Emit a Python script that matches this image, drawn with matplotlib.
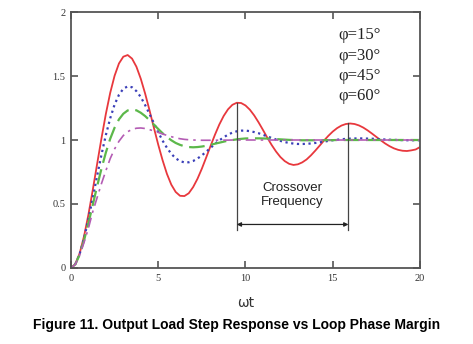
import numpy as np
import matplotlib
matplotlib.use('Agg')
import matplotlib.pyplot as plt

# sample positions along the omega*t axis (every 0.25)
wt = np.linspace(0, 20, 81)

# step responses, one row per 2 units of omega*t
pm15 = [0, .030, .115, .248, .416, .610, .813, 1.014,
        1.204, 1.369, 1.502, 1.598, 1.651, 1.664, 1.636, 1.573,
        1.479, 1.363, 1.233, 1.097, .964, .842, .735, .651,
        .594, .564, .562, .584, .632, .697, .776, .864,
        .954, 1.041, 1.121, 1.188, 1.240, 1.275, 1.291, 1.289,
        1.270, 1.237, 1.192, 1.138, 1.079, 1.018, .961, .910,
        .867, .835, .814, .805, .810, .825, .848, .880,
        .917, .956, .996, 1.033, 1.066, 1.093, 1.113, 1.125,
        1.129, 1.125, 1.114, 1.097, 1.075, 1.050, 1.024, .998,
        .973, .952, .935, .923, .916, .914, .919, .926,
        .945]
pm30 = [0, .029, .110, .231, .381, .548, .720, .886,
        1.039, 1.170, 1.277, 1.353, 1.401, 1.419, 1.412, 1.382,
        1.336, 1.273, 1.204, 1.132, 1.061, .995, .939, .892,
        .857, .835, .825, .826, .836, .855, .880, .908,
        .939, .969, .997, 1.021, 1.042, 1.058, 1.068, 1.073,
        1.074, 1.069, 1.062, 1.053, 1.041, 1.028, 1.016, 1.004,
        .993, .984, .977, .972, .969, .969, .970, .973,
        .977, .982, .987, .993, .998, 1.002, 1.006, 1.009,
        1.011, 1.012, 1.013, 1.012, 1.011, 1.010, 1.008, 1.006,
        1.004, 1.002, 1.001, 1.000, .999, .998, .998, .998,
        .998]
pm45 = [0, .028, .104, .216, .349, .493, .639, .777,
        .902, 1.010, 1.096, 1.161, 1.205, 1.231, 1.238, 1.232,
        1.213, 1.187, 1.155, 1.121, 1.086, 1.053, 1.023, .998,
        .977, .962, .951, .945, .943, .945, .949, .955,
        .963, .971, .979, .987, .995, 1.000, 1.005, 1.009,
        1.012, 1.013, 1.013, 1.013, 1.012, 1.011, 1.009, 1.007,
        1.005, 1.003, 1.001, 1.000, .999, .998, .998, .998,
        .998, .998, .999, .999, .999, 1.0, 1.0, 1.0,
        1.0, 1.0, 1.0, 1.0, 1.0, 1.0, 1.0, 1.0,
        1.0, 1.0, 1.0, 1.0, 1.0, 1.0, 1.0, 1.0,
        1.0]
pm60 = [0, .028, .100, .200, .310, .440, .550, .660,
        .760, .855, .930, .990, 1.035, 1.065, 1.083, 1.092,
        1.094, 1.090, 1.081, 1.071, 1.059, 1.047, 1.036, 1.026,
        1.017, 1.010, 1.005, 1.002, 1.000, .999, .998, .998,
        .998, .998, .999, .999, .999, 1.0, 1.0, 1.0,
        1.0, 1.0, 1.0, 1.0, 1.0, 1.0, 1.0, 1.0,
        1.0, 1.0, 1.0, 1.0, 1.0, 1.0, 1.0, 1.0,
        1.0, 1.0, 1.0, 1.0, 1.0, 1.0, 1.0, 1.0,
        1.0, 1.0, 1.0, 1.0, 1.0, 1.0, 1.0, 1.0,
        1.0, 1.0, 1.0, 1.0, 1.0, 1.0, 1.0, 1.0,
        1.0]

labels = ['φ=15°', 'φ=30°', 'φ=45°', 'φ=60°']

# crossover markers: two successive peaks of the 15 deg curve
cross_t = [9.5, 15.9]
cross_top = [1.29, 1.13]
cross_bottom = 0.30
arrow_y = 0.34

fig = plt.figure(figsize=(4.73, 3.44), dpi=100)
ax = fig.add_axes([0.150, 0.221, 0.738, 0.744])

ax.plot(wt, pm15, color='#e8383d', lw=1.3)
ax.plot(wt, pm30, color='#3a3fb8', lw=1.6, linestyle=(0, (1, 1.6)))
ax.plot(wt, pm45, color='#5cb84a', lw=1.6, linestyle=(0, (7, 3)))
ax.plot(wt, pm60, color='#b45cb4', lw=1.2, linestyle=(0, (6, 3, 1.5, 3)))

# crossover annotation
for t, top in zip(cross_t, cross_top):
    ax.plot([t, t], [cross_bottom, top], color='#444444', lw=0.9)
ax.annotate('', xy=(cross_t[0], arrow_y), xytext=(cross_t[1], arrow_y),
            arrowprops=dict(arrowstyle='<|-|>', color='#222222', lw=0.9,
                            mutation_scale=6, shrinkA=0, shrinkB=0))
ax.text(sum(cross_t) / 2, 0.57, 'Crossover\nFrequency', ha='center', va='center',
        fontsize=9.5, family='Liberation Sans', color='#222222', linespacing=1.25)

# phase margin labels
for i, lab in enumerate(labels):
    ax.text(15.3, 1.82 - i * 0.16, lab, fontsize=12, family='Liberation Serif',
            color='#222222', va='center', ha='left')

ax.set_xlim(0, 20)
ax.set_ylim(0, 2)
ax.set_xticks([0, 5, 10, 15, 20])
ax.set_yticks([0, 0.5, 1, 1.5, 2])
ax.set_yticklabels(['0', '0.5', '1', '1.5', '2'])
ax.tick_params(direction='in', length=5, width=1.2, color='#555555',
               top=True, right=True, labelsize=7.5, labelcolor='#333333', pad=4)
for lab in ax.get_xticklabels() + ax.get_yticklabels():
    lab.set_family('Liberation Serif')
for s in ax.spines.values():
    s.set_color('#555555')
    s.set_linewidth(1.3)

ax.set_xlabel('ωt', fontsize=10, family='DejaVu Sans', color='#333333', labelpad=10)

fig.text(0.5, 0.055, 'Figure 11. Output Load Step Response vs Loop Phase Margin',
         ha='center', va='center', fontsize=10, fontweight='bold',
         family='Liberation Sans')

fig.savefig('out.png', dpi=100, facecolor='white')
